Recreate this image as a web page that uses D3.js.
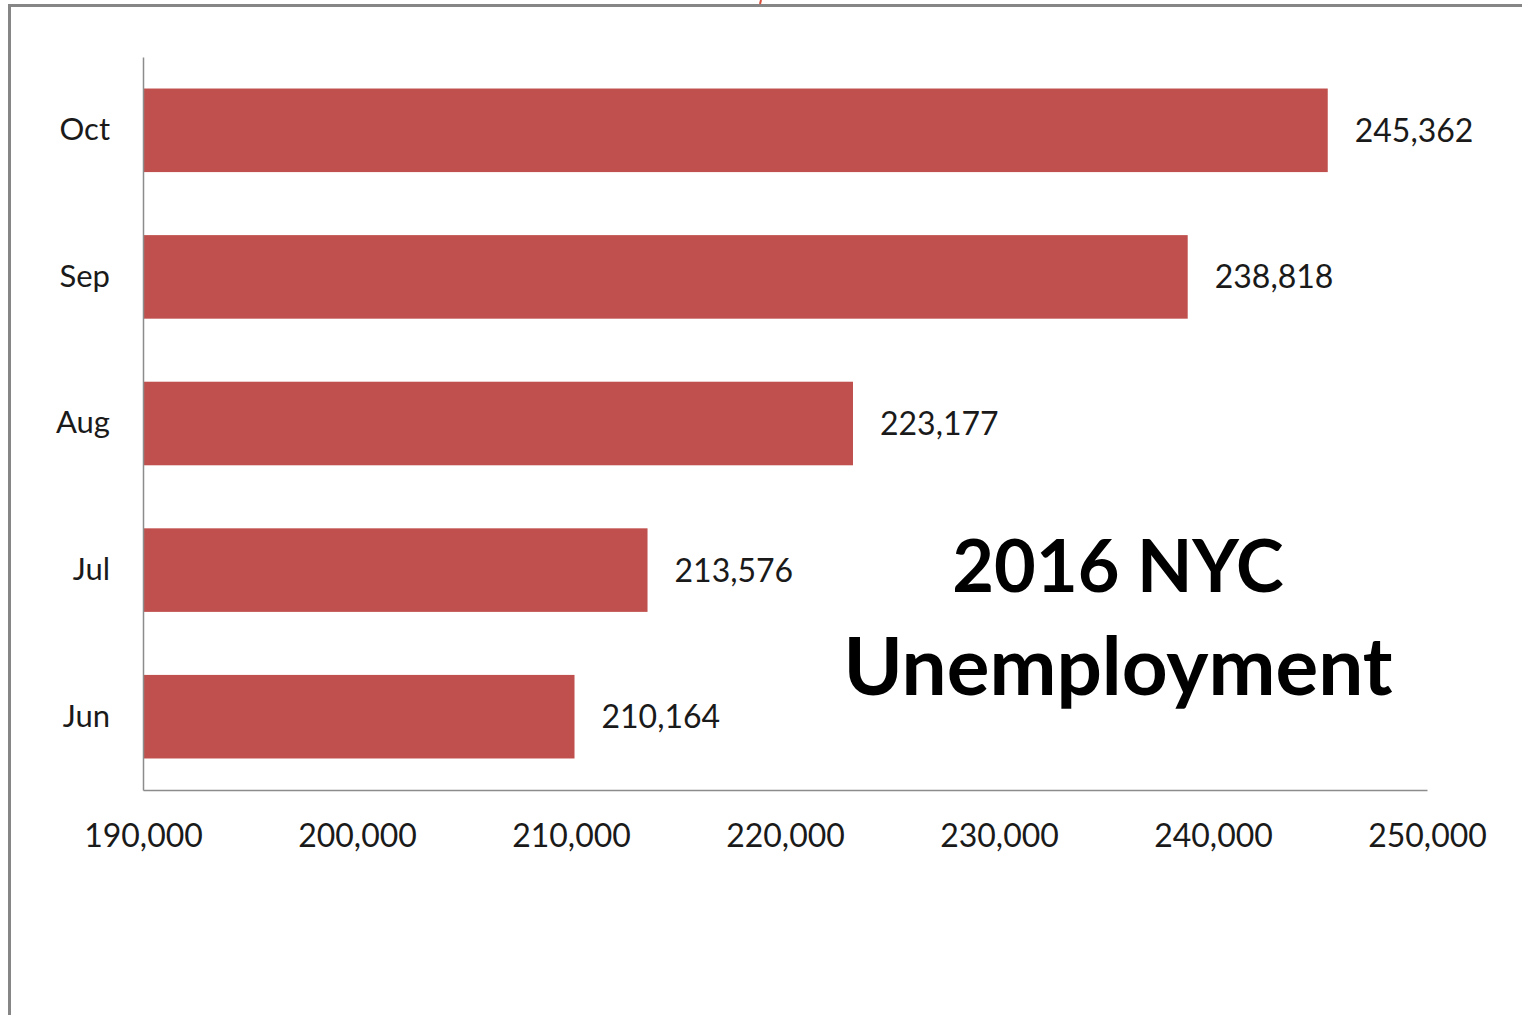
<!DOCTYPE html>
<html>
<head>
<meta charset="utf-8">
<script src="https://cdn.jsdelivr.net/npm/d3@7"></script>
<style>
  html, body { margin: 0; padding: 0; background: #fff; }
  svg { display: block; }
</style>
</head>
<body>
<svg id="chart" width="1522" height="1015"></svg>
<script>
// Monthly unemployed persons, New York City, 2016
const months = ["Oct", "Sep", "Aug", "Jul", "Jun"];
const unemployed = [245362, 238818, 223177, 213576, 210164];
const xTicks = [190000, 200000, 210000, 220000, 230000, 240000, 250000];
const titleLines = ["2016 NYC", "Unemployment"];
const titleSizes = [72, 80];

const svg = d3.select("#chart");
const font = "Lato, 'Open Sans', sans-serif";
const ink = "#1a1a1a";

// frame around the chart area
svg.append("path")
  .attr("d", "M9.5,1015 L9.5,5.5 L1522,5.5")
  .attr("fill", "none")
  .attr("stroke", "#868686")
  .attr("stroke-width", 3);
svg.append("line")
  .attr("x1", 761).attr("y1", 0).attr("x2", 760).attr("y2", 4)
  .attr("stroke", "#d9503c").attr("stroke-width", 2);

const plot = { left: 143, right: 1427, top: 57, bottom: 790 };

const x = d3.scaleLinear()
  .domain([xTicks[0], xTicks[xTicks.length - 1]])
  .range([plot.left, plot.right]);

const y = d3.scaleBand()
  .domain(months)
  .range([plot.top, plot.bottom])
  .paddingInner(0.43)
  .paddingOuter(0.215);

const data = months.map((m, i) => ({ month: m, value: unemployed[i] }));

// bars
svg.append("g").selectAll("rect")
  .data(data)
  .join("rect")
  .attr("x", x(xTicks[0]))
  .attr("y", d => y(d.month))
  .attr("width", d => x(d.value) - x(xTicks[0]))
  .attr("height", y.bandwidth())
  .attr("fill", "#C0504D");

// value labels
const fmt = d3.format(",");
svg.append("g").selectAll("text")
  .data(data)
  .join("text")
  .attr("x", d => x(d.value) + 27)
  .attr("y", d => y(d.month) + y.bandwidth() / 2)
  .attr("dy", "0.36em")
  .attr("font-family", font)
  .attr("font-size", 32)
  .attr("fill", ink)
  .text(d => fmt(d.value));

// x axis
const xAxis = svg.append("g")
  .attr("transform", `translate(0,${plot.bottom})`)
  .call(d3.axisBottom(x).tickValues(xTicks).tickFormat(fmt).tickSize(0).tickPadding(34));
xAxis.select(".domain").attr("stroke", "#8c8c8c").attr("stroke-width", 1.5);
xAxis.selectAll("text")
  .attr("font-family", font).attr("font-size", 32).attr("fill", ink);

// y axis
const yAxis = svg.append("g")
  .attr("transform", `translate(${plot.left},0)`)
  .call(d3.axisLeft(y).tickSize(0).tickPadding(33));
yAxis.select(".domain").attr("stroke", "#8c8c8c").attr("stroke-width", 1.5);
yAxis.selectAll("text")
  .attr("font-family", font).attr("font-size", 31).attr("fill", ink);

// chart title
svg.append("text")
  .attr("x", 1118)
  .attr("text-anchor", "middle")
  .attr("font-family", font)
  .attr("font-weight", "bold")
  .attr("fill", "#000")
  .selectAll("tspan")
  .data(titleLines)
  .join("tspan")
  .attr("x", 1118)
  .attr("y", (d, i) => 592 + i * 103)
  .attr("font-size", (d, i) => titleSizes[i])
  .text(d => d);
</script>
</body>
</html>
